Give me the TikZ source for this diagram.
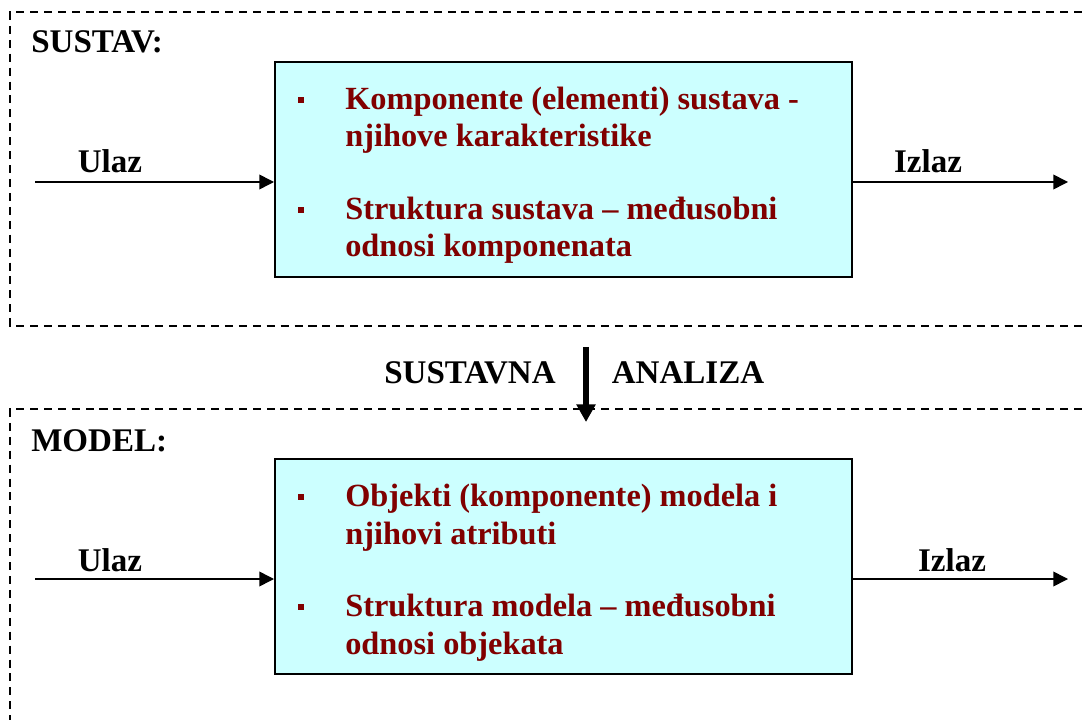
\documentclass[tikz,border=0pt]{standalone}
\usepackage{fontspec}
\setmainfont{Liberation Serif}
\usetikzlibrary{arrows.meta,positioning}
\definecolor{DarkRed}{RGB}{128,0,0}
\definecolor{LightCyan}{RGB}{204,255,255}

\tikzset{
	frame/.style={dash pattern=on 5.7pt off 4.2pt, line width=0.9pt},
	sysbox/.style={draw, line width=1.3pt, fill=LightCyan, minimum width=14.425cm, minimum height=5.375cm, inner sep=0pt},
	flow/.style={-{Triangle[length=10.5pt,width=10.5pt]}, line width=1.1pt},
	down/.style={-{Triangle[length=12.5pt,width=13pt]}, line width=4.2pt},
	lbl/.style={font=\fontsize{23.5}{26}\selectfont\bfseries, inner sep=0pt},
	item/.style={font=\fontsize{23}{26.5}\selectfont\bfseries, text=DarkRed, align=left, inner sep=0pt, anchor=base west},
	dot/.style={fill=DarkRed, minimum size=4.3pt, inner sep=0pt}
}

\begin{document}
\begin{tikzpicture}[x=0.025cm, y=-0.025cm]
	\useasboundingbox (0,0) rectangle (1082,720);
	
	% okvir: sustav
	\draw[frame] (1082,12) -- (10,12) -- (10,326) -- (1082,326);
	\node[lbl, anchor=base west] (sustav) at (31,53) {SUSTAV:};
	\node[sysbox] (sbox) at (563.5,169.5) {};
	\node[dot] (s1) at (301,100) {};
	\node[item] (s1t) at (345,147) {Komponente (elementi) sustava -\\njihove karakteristike};
	\node[dot] (s2) at (301,210) {};
	\node[item] (s2t) at (345,257) {Struktura sustava – međusobni\\odnosi komponenata};
	\coordinate (sin) at (35,182);
	\coordinate (sout) at (1068,182);
	\draw[flow] (sin) -- (sbox.west |- sin);
	\draw[flow] (sbox.east |- sout) -- (sout);
	\node[lbl, anchor=base] (sulaz) at (110,173) {Ulaz};
	\node[lbl, anchor=base] (sizlaz) at (928,173) {Izlaz};
	
	% sustavna analiza
	\coordinate (atop) at (586,347);
	\coordinate (abot) at (586,422);
	\draw[down] (atop) -- (abot);
	\node[lbl, anchor=base] (sa1) at (470,383) {SUSTAVNA};
	\node[lbl, anchor=base] (sa2) at (688,383) {ANALIZA};
	
	% okvir: model
	\draw[frame] (1082,409) -- (10,409) -- (10,720);
	\node[lbl, anchor=base west] (model) at (31,451) {MODEL:};
	\node[sysbox] (mbox) at (563.5,566.5) {};
	\node[dot] (m1) at (301,497) {};
	\node[item] (m1t) at (345,544) {Objekti (komponente) modela i\\njihovi atributi};
	\node[dot] (m2) at (301,607) {};
	\node[item] (m2t) at (345,654) {Struktura modela – međusobni\\odnosi objekata};
	\coordinate (min) at (35,579);
	\coordinate (mout) at (1068,579);
	\draw[flow] (min) -- (mbox.west |- min);
	\draw[flow] (mbox.east |- mout) -- (mout);
	\node[lbl, anchor=base] (mulaz) at (110,571) {Ulaz};
	\node[lbl, anchor=base] (mizlaz) at (952,571) {Izlaz};
\end{tikzpicture}
\end{document}
